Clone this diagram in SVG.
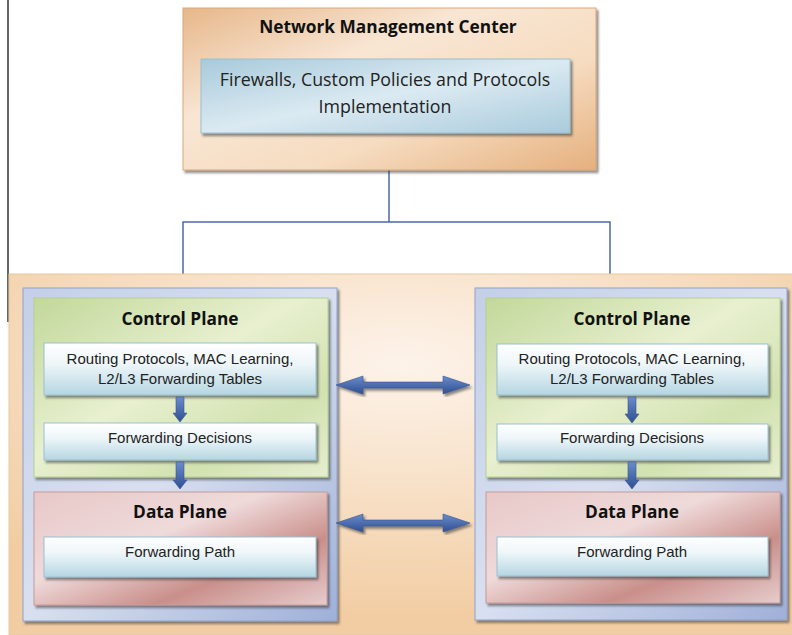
<svg xmlns="http://www.w3.org/2000/svg" width="792" height="635" viewBox="0 0 792 635">
<style>
.title{font-family:"Open Sans","Liberation Sans",sans-serif;font-weight:bold;font-size:17.3px;fill:#111;text-anchor:middle}
.ttl2{font-family:"Open Sans","Liberation Sans",sans-serif;font-size:17.8px;fill:#222;text-anchor:middle}
.lbl{font-family:"Liberation Sans",Arial,sans-serif;font-size:15px;fill:#222;text-anchor:middle}
.conn{stroke:#4a68a8;stroke-width:1.5;fill:none}
.inner{fill:url(#gInner);stroke:#9cc0d0;stroke-width:1;filter:url(#sh)}
.arrow{fill:url(#gArrow);stroke:#3a5590;stroke-width:0.6}
</style>
<defs>
<filter id="sh" x="-5%" y="-5%" width="112%" height="120%">
<feDropShadow dx="2" dy="2.5" stdDeviation="1" flood-color="#333" flood-opacity="0.55"/>
</filter>
<radialGradient id="gBg2" cx="0.5" cy="0.25" r="0.7">
<stop offset="0" stop-color="#fdf3ea"/><stop offset="1" stop-color="#f2cda3"/>
</radialGradient>
<linearGradient id="gNmc" x1="0" y1="0" x2="1" y2="1">
<stop offset="0" stop-color="#e7b78a"/><stop offset="0.35" stop-color="#f8e6d4"/><stop offset="0.65" stop-color="#f6dcc0"/><stop offset="1" stop-color="#e5b07e"/>
</linearGradient>
<linearGradient id="gNmcIn" x1="0" y1="0" x2="1" y2="1">
<stop offset="0" stop-color="#a8cadb"/><stop offset="0.5" stop-color="#dbeaf2"/><stop offset="1" stop-color="#a9cbdc"/>
</linearGradient>
<linearGradient id="gBlue" x1="0" y1="0" x2="1" y2="1">
<stop offset="0" stop-color="#c4cfe8"/><stop offset="0.5" stop-color="#d8e0f0"/><stop offset="1" stop-color="#9fb0d8"/>
</linearGradient>
<linearGradient id="gGreen" x1="0" y1="0" x2="1" y2="1">
<stop offset="0" stop-color="#c2d89a"/><stop offset="0.45" stop-color="#e8f0d0"/><stop offset="0.75" stop-color="#d2e2b0"/><stop offset="1" stop-color="#e6eecf"/>
</linearGradient>
<linearGradient id="gRed" x1="0" y1="0" x2="1" y2="1">
<stop offset="0" stop-color="#e8c8c8"/><stop offset="0.4" stop-color="#efdada"/><stop offset="0.7" stop-color="#c98f8a"/><stop offset="1" stop-color="#e6cccc"/>
</linearGradient>
<linearGradient id="gInner" x1="0" y1="0" x2="0" y2="1">
<stop offset="0" stop-color="#ffffff"/><stop offset="0.4" stop-color="#eef6f9"/><stop offset="1" stop-color="#b5d6e2"/>
</linearGradient>
<linearGradient id="gArrow" x1="0" y1="0" x2="0" y2="1">
<stop offset="0" stop-color="#6a8ccc"/><stop offset="1" stop-color="#2f4f90"/>
</linearGradient>
</defs>

<line x1="8" y1="0" x2="8" y2="322" stroke="#333" stroke-width="1.5"/>

<g id="connectors">
<polyline class="conn" points="389,170 389,222"/>
<polyline class="conn" points="183,275 183,222 610,222 610,275"/>
</g>

<g id="nmc">
<rect x="183" y="8" width="413" height="162" fill="url(#gNmc)" stroke="#d9a878" filter="url(#sh)"/>
<text class="title" x="388" y="33">Network Management Center</text>
<rect x="201" y="59" width="369" height="74" fill="url(#gNmcIn)" stroke="#9cc0d0" filter="url(#sh)"/>
<text class="ttl2" x="385" y="86">Firewalls, Custom Policies and Protocols</text>
<text class="ttl2" x="385" y="113">Implementation</text>
</g>

<g id="network">
<rect x="9" y="274" width="790" height="361" fill="url(#gBg2)" stroke="#e8c8a0"/>
</g>

<g id="switch-left">
<rect x="23" y="288" width="314" height="333" fill="url(#gBlue)" stroke="#8fa2cc" filter="url(#sh)"/>
<g id="control-left">
<rect x="34" y="298" width="294" height="179" fill="url(#gGreen)" stroke="#b8cf90" filter="url(#sh)"/>
<text class="title" x="180" y="325">Control Plane</text>
</g>
<g id="routing-left">
<rect class="inner" x="44" y="343" width="272" height="52"/>
<text class="lbl" x="180" y="364">Routing Protocols, MAC Learning,</text>
<text class="lbl" x="180" y="384">L2/L3 Forwarding Tables</text>
</g>
<g id="decisions-left">
<rect class="inner" x="44" y="423" width="272" height="37"/>
<text class="lbl" x="180" y="443">Forwarding Decisions</text>
</g>
<g id="data-left">
<rect x="34" y="492" width="293" height="113" fill="url(#gRed)" stroke="#c89a98" filter="url(#sh)"/>
<text class="title" x="180" y="518">Data Plane</text>
</g>
<g id="path-left">
<rect class="inner" x="44" y="537" width="272" height="40"/>
<text class="lbl" x="180" y="557">Forwarding Path</text>
</g>
</g>

<g id="switch-right">
<rect x="475" y="288" width="312" height="332" fill="url(#gBlue)" stroke="#8fa2cc" filter="url(#sh)"/>
<g id="control-right">
<rect x="486" y="298" width="294" height="179" fill="url(#gGreen)" stroke="#b8cf90" filter="url(#sh)"/>
<text class="title" x="632" y="325">Control Plane</text>
</g>
<g id="routing-right">
<rect class="inner" x="497" y="344" width="271" height="51"/>
<text class="lbl" x="632" y="364">Routing Protocols, MAC Learning,</text>
<text class="lbl" x="632" y="384">L2/L3 Forwarding Tables</text>
</g>
<g id="decisions-right">
<rect class="inner" x="497" y="424" width="271" height="36"/>
<text class="lbl" x="632" y="443">Forwarding Decisions</text>
</g>
<g id="data-right">
<rect x="486" y="492" width="294" height="111" fill="url(#gRed)" stroke="#c89a98" filter="url(#sh)"/>
<text class="title" x="632" y="518">Data Plane</text>
</g>
<g id="path-right">
<rect class="inner" x="497" y="537" width="271" height="39"/>
<text class="lbl" x="632" y="557">Forwarding Path</text>
</g>
</g>

<g id="arrows">
<path class="arrow" d="M176,397 h8 v16 h3 l-7,9 l-7,-9 h3 z"/>
<path class="arrow" d="M176,462 h8 v18 h3 l-7,9 l-7,-9 h3 z"/>
<path class="arrow" d="M628,397 h8 v17 h3 l-7,9 l-7,-9 h3 z"/>
<path class="arrow" d="M628,462 h8 v18 h3 l-7,9 l-7,-9 h3 z"/>
<path class="arrow" filter="url(#sh)" d="M336,385 l27,-9 v6 h80 v-6 l27,9 l-27,9 v-6 h-80 v6 z"/>
<path class="arrow" filter="url(#sh)" d="M336,523 l27,-9 v6 h80 v-6 l27,9 l-27,9 v-6 h-80 v6 z"/>
</g>
</svg>
